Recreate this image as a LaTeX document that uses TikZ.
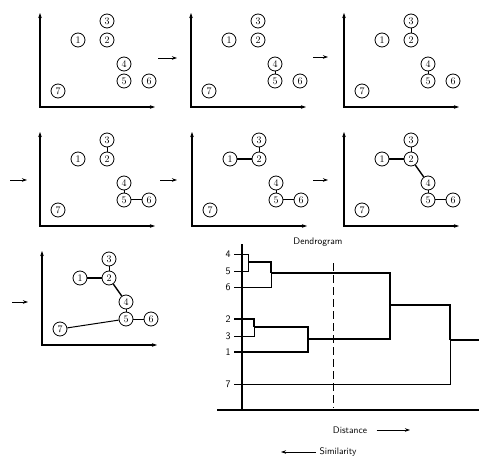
\documentclass[tikz,border=0pt]{standalone}
\usepackage{tikz}
\usetikzlibrary{arrows.meta}

% one scatter of the seven objects, names prefixed by #1
\newcommand{\pointcloud}[1]{%
  \coordinate (#1-o) at (0,0);
  \coordinate (#1-y) at (0,-94);
  \coordinate (#1-x) at (115,0);
  \draw[axis] (#1-y) -- (#1-o) -- (#1-x);
  \node[pt] (#1-1) at (38,-67) {1};
  \node[pt] (#1-2) at (67,-67) {2};
  \node[pt] (#1-3) at (67,-86) {3};
  \node[pt] (#1-4) at (84,-43) {4};
  \node[pt] (#1-5) at (84,-26) {5};
  \node[pt] (#1-6) at (109,-26) {6};
  \node[pt] (#1-7) at (18,-16) {7};
}

\begin{document}
\begin{tikzpicture}[x=1pt, y=-1pt,
  pt/.style={circle, draw, line width=0.8pt, minimum size=14pt, inner sep=0pt,
    font=\fontsize{10}{10}\selectfont},
  axis/.style={line width=1.1pt, arrows={Stealth[length=5pt,width=3.5pt]-Stealth[length=5pt,width=3.5pt]}},
  link/.style={line width=1pt},
  bond/.style={line width=1.4pt},
  flow/.style={line width=0.8pt, -{Stealth[length=5pt,width=3.5pt]}},
  twig/.style={line width=0.5pt},
  branch/.style={line width=1.3pt},
  leaf/.style={font=\sffamily\fontsize{10}{10}\selectfont},
  caption/.style={font=\sffamily\fontsize{9.5}{10}\selectfont}]
  \useasboundingbox (0,0) rectangle (479,457);

  \begin{scope}[shift={(40,107)}]
    \pointcloud{a}
  \end{scope}
  \begin{scope}[shift={(191,107)}]
    \pointcloud{b}
    \draw[link] (b-4) -- (b-5);
  \end{scope}
  \begin{scope}[shift={(344,107)}]
    \pointcloud{c}
    \draw[link] (c-4) -- (c-5);
    \draw[link] (c-2) -- (c-3);
  \end{scope}
  \begin{scope}[shift={(40,226)}]
    \pointcloud{d}
    \draw[link] (d-4) -- (d-5);
    \draw[link] (d-2) -- (d-3);
    \draw[link] (d-5) -- (d-6);
  \end{scope}
  \begin{scope}[shift={(192,226)}]
    \pointcloud{e}
    \draw[link] (e-4) -- (e-5);
    \draw[link] (e-2) -- (e-3);
    \draw[link] (e-5) -- (e-6);
    \draw[bond] (e-1) -- (e-2);
  \end{scope}
  \begin{scope}[shift={(344,226)}]
    \pointcloud{f}
    \draw[link] (f-4) -- (f-5);
    \draw[link] (f-2) -- (f-3);
    \draw[link] (f-5) -- (f-6);
    \draw[bond] (f-1) -- (f-2);
    \draw[bond] (f-2) -- (f-4);
  \end{scope}
  \begin{scope}[shift={(42,345)}]
    \pointcloud{g}
    \draw[link] (g-4) -- (g-5);
    \draw[link] (g-2) -- (g-3);
    \draw[link] (g-5) -- (g-6);
    \draw[bond] (g-1) -- (g-2);
    \draw[bond] (g-2) -- (g-4);
    \draw[link] (g-7) -- (g-5);
  \end{scope}

  % arrows between the steps
  \coordinate (ab0) at (158,58);  \coordinate (ab1) at (177,58);
  \coordinate (bc0) at (313,57);  \coordinate (bc1) at (328,57);
  \coordinate (cd0) at (10,180);  \coordinate (cd1) at (27,180);
  \coordinate (de0) at (160,180); \coordinate (de1) at (177,180);
  \coordinate (ef0) at (313,180); \coordinate (ef1) at (328,180);
  \coordinate (fg0) at (12,302);  \coordinate (fg1) at (28,302);
  \foreach \s in {ab,bc,cd,de,ef,fg}
    \draw[flow] (\s0) -- (\s1);

  % dendrogram
  \node[caption] (title) at (318,242) {Dendrogram};
  \coordinate (dtop) at (242,244);
  \coordinate (dbot) at (242,411);
  \coordinate (dleft) at (217,410);
  \coordinate (dright) at (479,410);
  \draw[line width=1.1pt] (dtop) -- (dbot);
  \draw[line width=1.1pt] (dleft) -- (dright);

  \node[leaf] (l4) at (228,254) {4};
  \node[leaf] (l5) at (228,271) {5};
  \node[leaf] (l6) at (228,287) {6};
  \node[leaf] (l2) at (228,319) {2};
  \node[leaf] (l3) at (228,336) {3};
  \node[leaf] (l1) at (228,352) {1};
  \node[leaf] (l7) at (228,384) {7};

  \coordinate (j45) at (248,262);
  \coordinate (j456) at (271,273);
  \coordinate (j23) at (254,327);
  \coordinate (j123) at (308,339);
  \coordinate (j16) at (390,305);
  \coordinate (jall) at (450,340);
  \coordinate (root) at (479,340);

  \draw[twig] (l4.east) -| (j45);
  \draw[twig] (l5.east) -| (j45);
  \draw[branch] (j45) -| (j456);
  \draw[twig] (l6.east) -| (j456);
  \draw[branch] (l2.east) -| (j23);
  \draw[twig] (l3.east) -| (j23);
  \draw[branch] (j23) -| (j123);
  \draw[branch] (l1.east) -| (j123);
  \draw[branch] (j456) -| (j16);
  \draw[branch] (j123) -| (j16);
  \draw[branch] (j16) -| (jall);
  \draw[twig] (l7.east) -| (jall);
  \draw[branch] (jall) -- (root);

  \coordinate (cut0) at (333,263);
  \coordinate (cut1) at (333,408);
  \draw[line width=0.6pt, dash pattern=on 8pt off 4pt] (cut0) -- (cut1);

  \node[caption] (dist) at (350,430) {Distance};
  \coordinate (distend) at (410,430);
  \draw[flow] ([xshift=6]dist.east) -- (distend);
  \node[caption] (sim) at (338,452) {Similarity};
  \coordinate (simend) at (281,452);
  \draw[flow] (sim.west) -- (simend);
\end{tikzpicture}
\end{document}
